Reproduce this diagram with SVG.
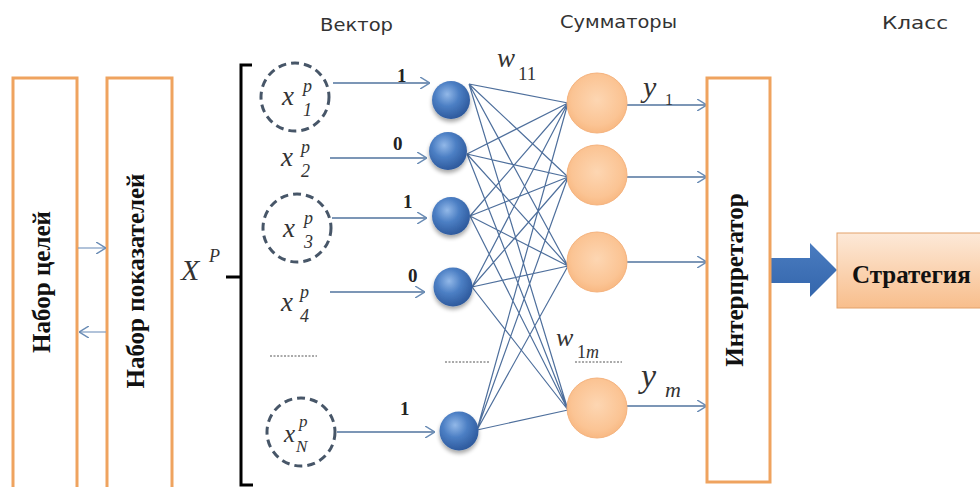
<svg xmlns="http://www.w3.org/2000/svg" width="980" height="487" viewBox="0 0 980 487">
  <style>
    .box { fill: #ffffff; stroke: #EFA35F; stroke-width: 3; }
    .vt { font-family: "Liberation Serif", "DejaVu Serif", serif; font-weight: bold; font-size: 25px; fill: #111; }
    .hdr { font-family: "DejaVu Sans", sans-serif; font-size: 17px; fill: #333; }
    .it { font-family: "Liberation Serif", "DejaVu Serif", serif; font-style: italic; fill: #333; }
    .up { font-family: "Liberation Serif", "DejaVu Serif", serif; fill: #333; }
    .num { font-family: "Liberation Serif", "DejaVu Serif", serif; font-weight: bold; font-size: 19px; fill: #222; }
    .dash { fill: none; stroke: #475668; stroke-width: 3; stroke-dasharray: 8 5; }
    .arr { fill: none; stroke: #50739E; stroke-width: 1.4; marker-end: url(#chev); }
    .conn { fill: none; stroke: #4E6F9C; stroke-width: 1.2; }
    .dots { stroke: #555; stroke-width: 1; stroke-dasharray: 2 1.5; }
    .bn { fill: url(#blueG); filter: url(#sh); }
    .on { fill: url(#orG); stroke: #F5B37E; stroke-width: 1; }
  </style>
  <defs>
    <marker id="chev" viewBox="0 0 10 12" markerWidth="10" markerHeight="12" refX="10" refY="6" orient="auto" markerUnits="userSpaceOnUse">
      <path d="M0,0 L10,6 L0,12" fill="none" stroke="#6A8CB5" stroke-width="1.5"/>
    </marker>
    <radialGradient id="blueG" cx="0.4" cy="0.35" r="0.7">
      <stop offset="0" stop-color="#92B8E8"/>
      <stop offset="0.45" stop-color="#4C7FC4"/>
      <stop offset="1" stop-color="#2A5598"/>
    </radialGradient>
    <radialGradient id="orG" cx="0.5" cy="0.45" r="0.6">
      <stop offset="0" stop-color="#FDD6B2"/>
      <stop offset="0.7" stop-color="#FBC494"/>
      <stop offset="1" stop-color="#F7B47C"/>
    </radialGradient>
    <linearGradient id="strG" x1="0" y1="0" x2="0" y2="1">
      <stop offset="0" stop-color="#FDE9D8"/>
      <stop offset="1" stop-color="#F8BE8C"/>
    </linearGradient>
    <linearGradient id="bigA" x1="0" y1="0" x2="0" y2="1">
      <stop offset="0" stop-color="#4A7CC0"/>
      <stop offset="1" stop-color="#3466AC"/>
    </linearGradient>
    <filter id="sh" x="-30%" y="-30%" width="160%" height="170%">
      <feGaussianBlur in="SourceAlpha" stdDeviation="2"/>
      <feOffset dx="0" dy="3" result="b"/>
      <feComponentTransfer><feFuncA type="linear" slope="0.35"/></feComponentTransfer>
      <feMerge><feMergeNode/><feMergeNode in="SourceGraphic"/></feMerge>
    </filter>
  </defs>

  <rect width="980" height="487" fill="#ffffff"/>

  <!-- headers -->
  <text class="hdr" x="320" y="31" textLength="73" lengthAdjust="spacingAndGlyphs">Вектор</text>
  <text class="hdr" x="560" y="28" textLength="117" lengthAdjust="spacingAndGlyphs">Сумматоры</text>
  <text class="hdr" x="882" y="29" textLength="66" lengthAdjust="spacingAndGlyphs">Класс</text>

  <!-- left boxes -->
  <g id="goals">
    <rect class="box" x="13" y="78" width="64" height="420"/>
    <text class="vt" transform="translate(50,282) rotate(-90)" text-anchor="middle">Набор целей</text>
  </g>
  <g id="indicators">
    <rect class="box" x="107" y="78" width="65" height="420"/>
    <text class="vt" transform="translate(144,281) rotate(-90)" text-anchor="middle">Набор показателей</text>
  </g>

  <!-- vector bracket -->
  <g id="vector">
    <text class="it" x="181" y="280" font-size="30">X</text>
    <text class="it" x="209" y="262" font-size="18">P</text>
    <path d="M252,65 H241 V485 H253 M241,277 H226" fill="none" stroke="#000" stroke-width="3"/>
  </g>

  <!-- inputs -->
  <g id="x1">
    <circle class="dash" cx="295" cy="97" r="34"/>
    <text class="it" x="282" y="105" font-size="27">x</text>
    <text class="it" x="303" y="92" font-size="18">p</text>
    <text class="it" x="303" y="116" font-size="18">1</text>
  </g>
  <g id="x2">
    <text class="it" x="281" y="166" font-size="27">x</text>
    <text class="it" x="301" y="153" font-size="18">p</text>
    <text class="it" x="301" y="177" font-size="18">2</text>
  </g>
  <g id="x3">
    <circle class="dash" cx="297" cy="228" r="34"/>
    <text class="it" x="283" y="237" font-size="27">x</text>
    <text class="it" x="304" y="224" font-size="18">p</text>
    <text class="it" x="304" y="248" font-size="18">3</text>
  </g>
  <g id="x4">
    <text class="it" x="281" y="311" font-size="27">x</text>
    <text class="it" x="300" y="298" font-size="18">p</text>
    <text class="it" x="300" y="322" font-size="18">4</text>
  </g>
  <g id="xN">
    <circle class="dash" cx="301" cy="432" r="34"/>
    <text class="it" x="284" y="442" font-size="25">x</text>
    <text class="it" x="299" y="427" font-size="17">p</text>
    <text class="it" x="296" y="452" font-size="17">N</text>
  </g>

  <!-- dotted ellipsis lines -->
  <line class="dots" x1="270" y1="356" x2="317" y2="356"/>
  <line class="dots" x1="445" y1="362" x2="490" y2="362"/>
  <line class="dots" x1="575" y1="362" x2="622" y2="362"/>

  <!-- connectors -->
  <g id="connectors">
    <line class="arr" x1="333" y1="83" x2="430" y2="83"/>
    <line class="arr" x1="330" y1="158" x2="427" y2="158"/>
    <line class="arr" x1="332" y1="218" x2="427" y2="218"/>
    <line class="arr" x1="330" y1="292" x2="425" y2="292"/>
    <line class="arr" x1="337" y1="432" x2="435" y2="432"/>

    <path class="conn" d="M469,84 L568,103 M469,84 L568,177 M469,84 L568,266 M469,84 L568,410
      M467,154 L568,103 M467,154 L568,177 M467,154 L568,266 M467,154 L568,410
      M470,216 L568,103 M470,216 L568,177 M470,216 L568,266 M470,216 L568,410
      M472,287 L568,103 M472,287 L568,177 M472,287 L568,266 M472,287 L568,410
      M477,430 L568,103 M477,430 L568,177 M477,430 L568,266 M477,430 L568,410"/>

    <line class="arr" x1="627" y1="105" x2="707" y2="105"/>
    <line class="arr" x1="627" y1="177" x2="707" y2="177"/>
    <line class="arr" x1="627" y1="262" x2="707" y2="262"/>
    <line class="arr" x1="627" y1="406" x2="707" y2="406"/>

    <line x1="78" y1="248" x2="106" y2="248" stroke="#7E9CC2" stroke-width="1.2" marker-end="url(#chev)"/>
    <line x1="106" y1="332" x2="79" y2="332" stroke="#7E9CC2" stroke-width="1.2" marker-end="url(#chev)"/>

    <polygon points="768,258 810,258 810,243 837,270 810,297 810,283 768,283" fill="url(#bigA)"/>
  </g>

  <!-- weights -->
  <text class="num" x="397" y="82">1</text>
  <text class="num" x="393" y="150">0</text>
  <text class="num" x="403" y="208">1</text>
  <text class="num" x="408" y="282">0</text>
  <text class="num" x="400" y="415">1</text>

  <text class="it" x="497" y="67" font-size="27">w</text>
  <text class="up" x="518" y="80" font-size="19">11</text>
  <text class="it" x="556" y="346" font-size="26">w</text>
  <text class="up" x="577" y="358" font-size="18">1<tspan font-style="italic">m</tspan></text>

  <text class="it" x="643" y="97" font-size="30">y</text>
  <text class="up" x="665" y="105" font-size="16">1</text>
  <text class="it" x="641" y="387" font-size="34">y</text>
  <text class="it" x="665" y="397" font-size="22">m</text>

  <!-- blue nodes -->
  <g id="b1"><circle class="bn" cx="451" cy="100" r="19"/></g>
  <g id="b2"><circle class="bn" cx="448" cy="151" r="19"/></g>
  <g id="b3"><circle class="bn" cx="451" cy="216" r="19"/></g>
  <g id="b4"><circle class="bn" cx="453" cy="287" r="19.5"/></g>
  <g id="bN"><circle class="bn" cx="459" cy="431" r="19.5"/></g>

  <!-- orange adders -->
  <g id="s1"><circle class="on" cx="597" cy="103" r="30"/></g>
  <g id="s2"><circle class="on" cx="597" cy="175" r="30"/></g>
  <g id="s3"><circle class="on" cx="597" cy="262" r="30"/></g>
  <g id="s4"><circle class="on" cx="597" cy="408" r="30"/></g>

  <!-- interpreter -->
  <g id="interpreter">
    <rect class="box" x="707" y="78" width="63" height="404"/>
    <text class="vt" transform="translate(743,280) rotate(-90)" text-anchor="middle" font-size="24">Интерпретатор</text>
  </g>

  <!-- strategy -->
  <g id="strategy">
    <rect x="837" y="233" width="150" height="75" fill="url(#strG)" stroke="#E3A26A" stroke-width="1"/>
    <text class="vt" x="852" y="283" font-size="22">Стратегия</text>
  </g>
</svg>
